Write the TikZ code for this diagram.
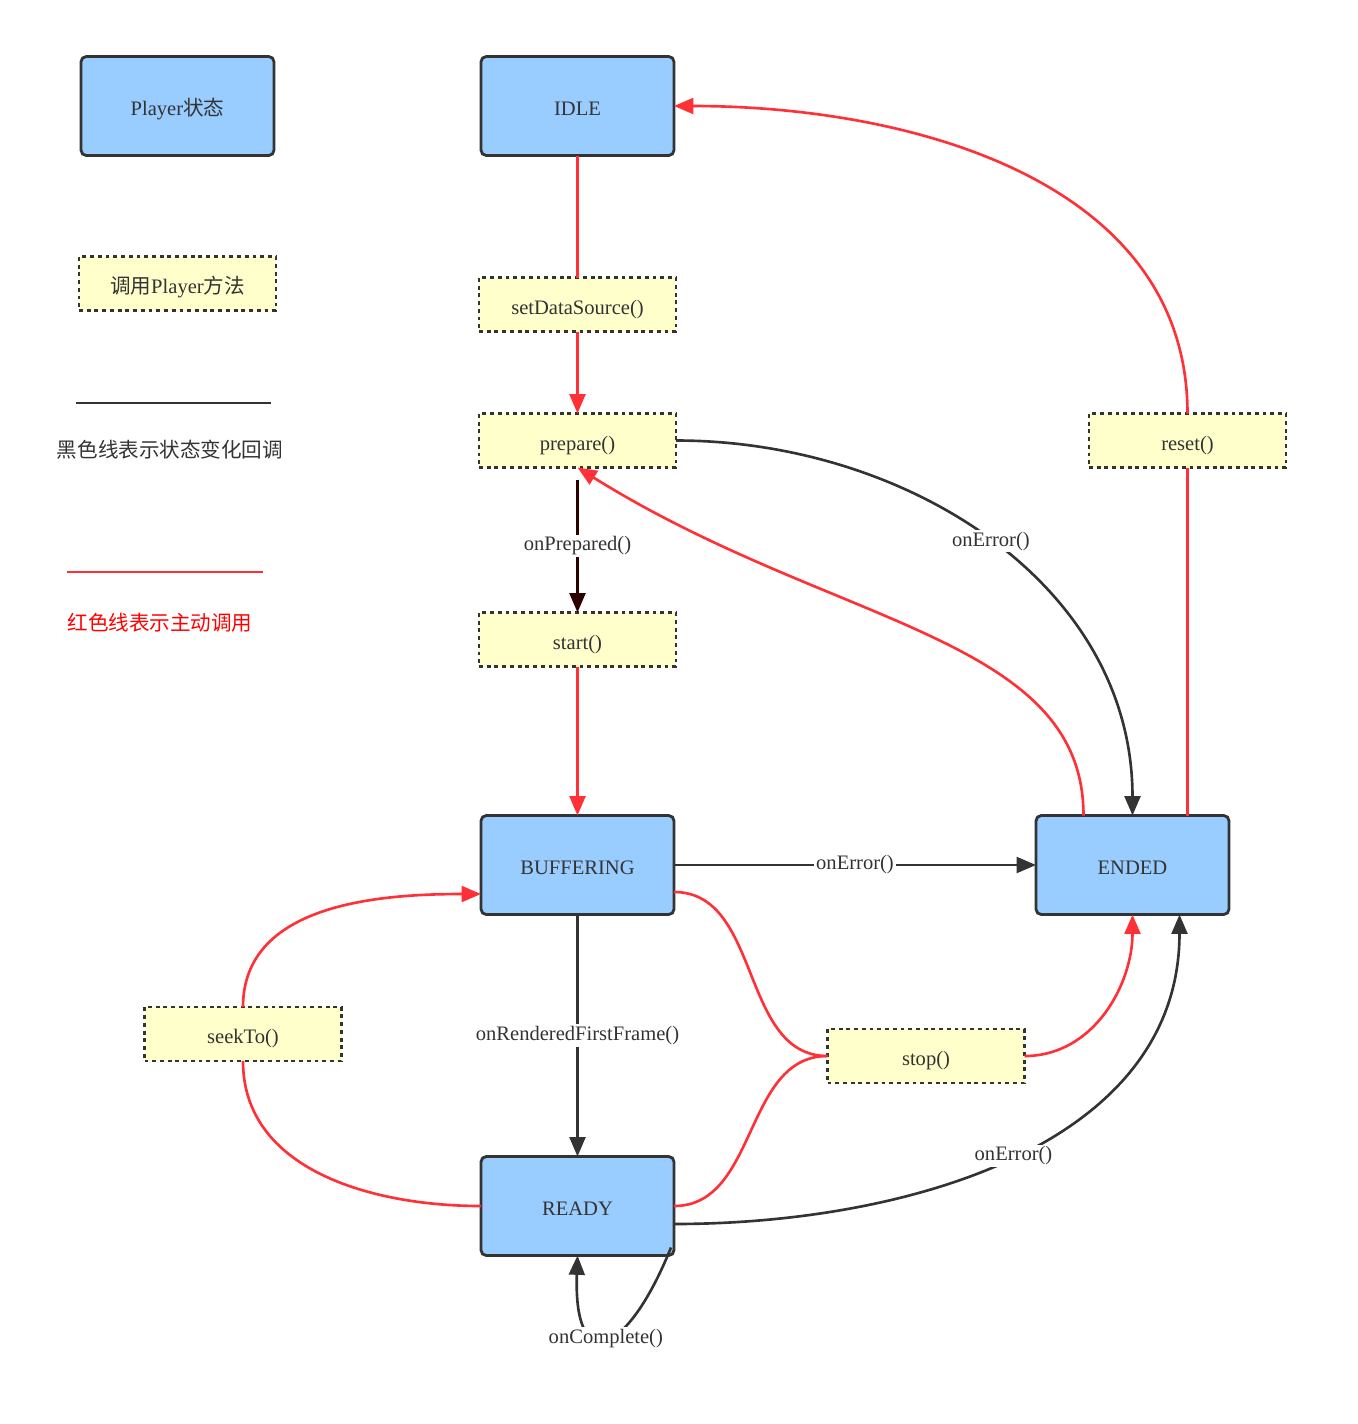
\documentclass[tikz,border=0pt]{standalone}
\usepackage{fontspec}
\setmainfont{Liberation Serif}
\newfontfamily\cjk{Noto Sans CJK SC}
\usepackage{tikz}
\usetikzlibrary{arrows.meta}
\usetikzlibrary{positioning}
\definecolor{darkline}{RGB}{51,51,51}
\definecolor{callred}{RGB}{255,48,54}
\definecolor{stateblue}{RGB}{153,204,255}
\definecolor{methodyellow}{RGB}{255,255,204}
\definecolor{prepline}{RGB}{45,0,0}
\tikzstyle{statebox} = [rectangle, rounded corners=3pt, minimum width=3.86cm, minimum height=1.98cm, inner sep=0pt, outer sep=0pt, text height=0.39cm, text depth=0pt, text centered, draw=darkline, line width=1.6pt, fill=stateblue]
\tikzstyle{methodbox} = [rectangle, minimum width=3.94cm, minimum height=1.08cm, inner sep=0pt, outer sep=0pt, text height=0.39cm, text depth=0pt, text centered, draw=darkline, line width=1.5pt, dash pattern=on 2.2pt off 2.2pt, fill=methodyellow]
\tikzstyle{arrow} = [line width=1.5pt, darkline, -{Triangle[length=11pt,width=9pt]}]
\tikzstyle{redline} = [line width=1.5pt, callred]
\tikzstyle{redarrow} = [redline, -{Triangle[length=11pt,width=9pt]}]
\tikzstyle{lbl} = [fill=white, inner sep=1pt]
\tikzstyle{every node}=[font=\fontsize{11.7}{14}\selectfont, text=darkline]

\begin{document}
\begin{tikzpicture}
\useasboundingbox (0,0) rectangle (27.16,-28.48);

\node (idle) [statebox] at (11.55,-2.12) {IDLE};
\node (legendstate) [statebox, left=4.14cm of idle] {Player{\cjk 状态}};
\node (legendcall) [methodbox, below=2.02cm of legendstate] {{\cjk 调用}Player{\cjk 方法}};
\node (setds) [methodbox, below=2.44cm of idle] {setDataSource()};
\node (prepare) [methodbox, below=1.64cm of setds] {prepare()};
\node (start) [methodbox, below=2.9cm of prepare] {start()};
\node (buffering) [statebox, below=2.98cm of start] {BUFFERING};
\node (ready) [statebox, below=4.84cm of buffering] {READY};
\node (ended) [statebox, right=7.24cm of buffering] {ENDED};
\node (reset) [methodbox, right=8.26cm of prepare] {reset()};
\node (stop) [methodbox] at (18.52,-21.12) {stop()};
\node (seekto) [methodbox] at (4.86,-20.68) {seekTo()};

\coordinate (blackstart) at (1.52,-8.06);
\coordinate (blackend) at (5.42,-8.06);
\coordinate (redstart) at (1.34,-11.44);
\coordinate (redend) at (5.26,-11.44);
\draw [line width=1.5pt, darkline] (blackstart) -- (blackend);
\draw [redline] (redstart) -- (redend);
\node (blacktext) at (3.4,-9.0) {\cjk 黑色线表示状态变化回调};
\node (redtext) [text=red] at (3.2,-12.46) {\cjk 红色线表示主动调用};

\draw [redline] (idle) -- (setds);
\draw [redarrow] (setds) -- (prepare);
\draw [arrow, prepline] ([yshift=-0.24cm]prepare.south) -- node[lbl]{onPrepared()} (start);
\draw [redarrow] (start) -- (buffering);
\draw [arrow] (prepare.east) to[out=0,in=90] node[lbl]{onError()} (ended.north);
\draw [redarrow] ([xshift=-0.98cm]ended.north) .. controls +(0,3.6) and +(-32:6) .. (prepare.south);
\draw [redline] (reset.south |- ended.north) -- (reset.south);
\draw [redarrow] (reset.north) to[out=90,in=0] (idle.east);
\draw [arrow] (buffering.east) -- node[lbl]{onError()} (ended.west);
\draw [arrow] (buffering.south) -- node[lbl]{onRenderedFirstFrame()} (ready.north);
\draw [arrow] ([yshift=-0.36cm]ready.east) to[out=0,in=-90] node[lbl]{onError()} ([xshift=0.94cm]ended.south);
\draw [arrow] ([xshift=-0.06cm,yshift=0.16cm]ready.south east) .. controls +(-112:2.4) and +(-92:2.4) .. node[lbl]{onComplete()} (ready.south);
\draw [redline] ([yshift=-0.54cm]buffering.east) to[out=0,in=180] (stop.west);
\draw [redline] (ready.east) to[out=0,in=180] (stop.west);
\draw [redarrow] (stop.east) to[out=0,in=-90] (ended.south);
\draw [redline] (ready.west) to[out=180,in=-90] (seekto.south);
\draw [redarrow] (seekto.north) to[out=90,in=180] ([yshift=-0.58cm]buffering.west);

\end{tikzpicture}
\end{document}
